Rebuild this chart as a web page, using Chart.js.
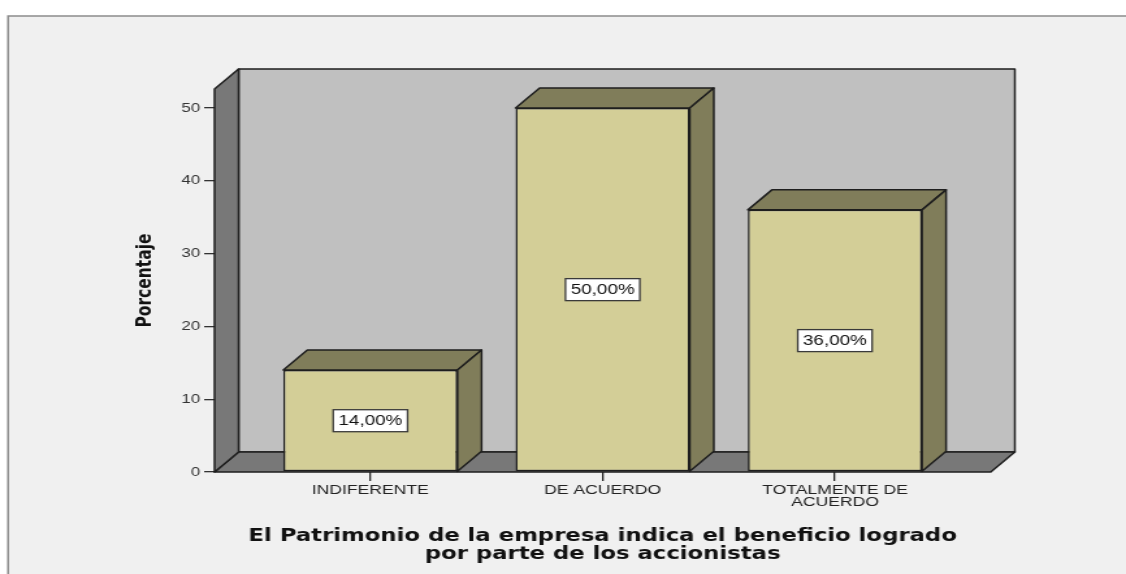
<!DOCTYPE html>
<html>
<head>
<meta charset="utf-8">
<script src="https://cdn.jsdelivr.net/npm/chart.js@4.4.1/dist/chart.umd.min.js"></script>
<style>
  html, body { margin: 0; padding: 0; background: #ffffff; overflow: hidden; }
</style>
</head>
<body>
<!-- drawn narrow and stretched wide, like the original export -->
<canvas id="chart" width="866" height="574" style="width:1126px;height:574px"></canvas>
<script>
// Data
const categories = ["INDIFERENTE", "DE ACUERDO", ["TOTALMENTE DE", "ACUERDO"]];
const percentages = [14, 50, 36];
const yTicks = [0, 10, 20, 30, 40, 50];
const xTitle = [
  "El Patrimonio de la empresa indica el beneficio logrado",
  "por parte de los accionistas",
];
const yTitle = "Porcentaje";

// Colors
const frontColor = "#d3ce97";
const shadeColor = "#807d5a";
const wallColor = "#787878";
const backColor = "#c0c0c0";
const pageColor = "#f0f0f0";
const edgeColor = "#1e1e1e";

// 3D depth of walls and bars
const depthX = 18.5;
const depthY = -20;

function polygon(ctx, pts, fill) {
  ctx.beginPath();
  ctx.moveTo(pts[0][0], pts[0][1]);
  for (let i = 1; i < pts.length; i++) ctx.lineTo(pts[i][0], pts[i][1]);
  ctx.closePath();
  ctx.fillStyle = fill;
  ctx.fill();
  ctx.stroke();
}

// Grey frame around the output
const framePlugin = {
  id: "frame",
  beforeDraw(chart) {
    const ctx = chart.ctx;
    ctx.save();
    ctx.fillStyle = "#ffffff";
    ctx.fillRect(0, 0, chart.width, chart.height);
    ctx.fillStyle = pageColor;
    ctx.fillRect(6.2, 16, chart.width, chart.height);
    ctx.strokeStyle = "#8c8c8c";
    ctx.lineWidth = 1.5;
    ctx.beginPath();
    ctx.moveTo(6.2, chart.height);
    ctx.lineTo(6.2, 16);
    ctx.lineTo(chart.width, 16);
    ctx.stroke();
    ctx.restore();
  },
};

// Walls, floor, bar tops / sides and value labels
const boxPlugin = {
  id: "box3d",
  beforeDatasetsDraw(chart) {
    const ctx = chart.ctx;
    const area = chart.chartArea;
    const base = chart.scales.y.getPixelForValue(0);
    const L = area.left;
    const R = area.right;
    const T = area.top;
    ctx.save();
    ctx.strokeStyle = edgeColor;
    ctx.lineWidth = 1.5;
    ctx.lineJoin = "round";

    // back wall
    polygon(ctx, [
      [L + depthX, T + depthY], [R + depthX, T + depthY],
      [R + depthX, base + depthY], [L + depthX, base + depthY],
    ], backColor);
    // floor
    polygon(ctx, [
      [L, base], [R, base], [R + depthX, base + depthY], [L + depthX, base + depthY],
    ], wallColor);
    // left wall
    polygon(ctx, [
      [L, base], [L, T], [L + depthX, T + depthY], [L + depthX, base + depthY],
    ], wallColor);

    // top and side of each bar
    chart.getDatasetMeta(0).data.forEach((bar) => {
      const left = bar.x - bar.width / 2;
      const right = bar.x + bar.width / 2;
      polygon(ctx, [
        [left, bar.y], [right, bar.y],
        [right + depthX, bar.y + depthY], [left + depthX, bar.y + depthY],
      ], shadeColor);
      polygon(ctx, [
        [right, bar.y], [right + depthX, bar.y + depthY],
        [right + depthX, bar.base + depthY], [right, bar.base],
      ], shadeColor);
    });
    ctx.restore();
  },
  afterDatasetsDraw(chart) {
    const ctx = chart.ctx;
    ctx.save();
    ctx.font = "14.5px 'Liberation Sans', Arial, sans-serif";
    ctx.textAlign = "center";
    ctx.textBaseline = "middle";
    chart.getDatasetMeta(0).data.forEach((bar, i) => {
      const text = percentages[i].toFixed(2).replace(".", ",") + "%";
      const w = ctx.measureText(text).width + 8;
      const h = 22;
      const cy = (bar.y + bar.base) / 2;
      ctx.fillStyle = "#ffffff";
      ctx.fillRect(bar.x - w / 2, cy - h / 2, w, h);
      ctx.strokeStyle = "#3a3a3a";
      ctx.lineWidth = 1.3;
      ctx.strokeRect(bar.x - w / 2, cy - h / 2, w, h);
      ctx.fillStyle = "#111111";
      ctx.fillText(text, bar.x, cy + 0.5);
    });
    ctx.restore();
  },
};

const chart = new Chart(document.getElementById("chart"), {
  type: "bar",
  data: {
    datasets: [
      {
        data: percentages.map((v, i) => ({ x: i, y: v })),
        backgroundColor: frontColor,
        borderColor: edgeColor,
        borderWidth: 1.5,
        borderSkipped: false,
        barPercentage: 0.75,
        categoryPercentage: 1,
      },
    ],
  },
  options: {
    responsive: false,
    devicePixelRatio: 1,
    animation: false,
    layout: {
      padding: { left: 100, top: 89, right: 104, bottom: 0 },
    },
    plugins: {
      legend: { display: false },
      tooltip: { enabled: false },
    },
    scales: {
      x: {
        type: "linear",
        offset: false,
        min: -0.671,
        max: 2.671,
        afterBuildTicks: (scale) => {
          scale.ticks = categories.map((c, i) => ({ value: i }));
        },
        afterFit: (scale) => {
          scale.height = 102;
        },
        grid: {
          offset: false,
          drawOnChartArea: false,
          tickLength: 9,
          color: "#222222",
          lineWidth: 1.3,
        },
        border: { display: false },
        ticks: {
          callback: (value) => categories[value],
          color: "#222222",
          font: { family: "'Liberation Sans', Arial, sans-serif", size: 13.5, lineHeight: 0.85 },
          padding: 4,
          maxRotation: 0,
          autoSkip: false,
        },
        title: {
          display: true,
          text: xTitle,
          color: "#111111",
          font: { family: "'DejaVu Sans', sans-serif", size: 17.5, weight: "bold", lineHeight: 1 },
          padding: { top: 0, bottom: 11 },
        },
      },
      y: {
        min: 0,
        max: 52.6,
        afterBuildTicks: (scale) => {
          scale.ticks = yTicks.map((v) => ({ value: v }));
        },
        afterFit: (scale) => {
          scale.width = 65;
        },
        grid: {
          drawOnChartArea: false,
          tickLength: 8,
          color: "#333333",
          lineWidth: 1.3,
        },
        border: { display: false },
        ticks: {
          color: "#333333",
          font: { family: "'Liberation Sans', Arial, sans-serif", size: 13 },
          padding: 3,
        },
        title: {
          display: true,
          text: yTitle,
          color: "#111111",
          font: { family: "'DejaVu Sans', sans-serif", size: 15.5, weight: "bold" },
          padding: { top: 3, bottom: 0 },
        },
      },
    },
  },
  plugins: [framePlugin, boxPlugin],
});
</script>
</body>
</html>
